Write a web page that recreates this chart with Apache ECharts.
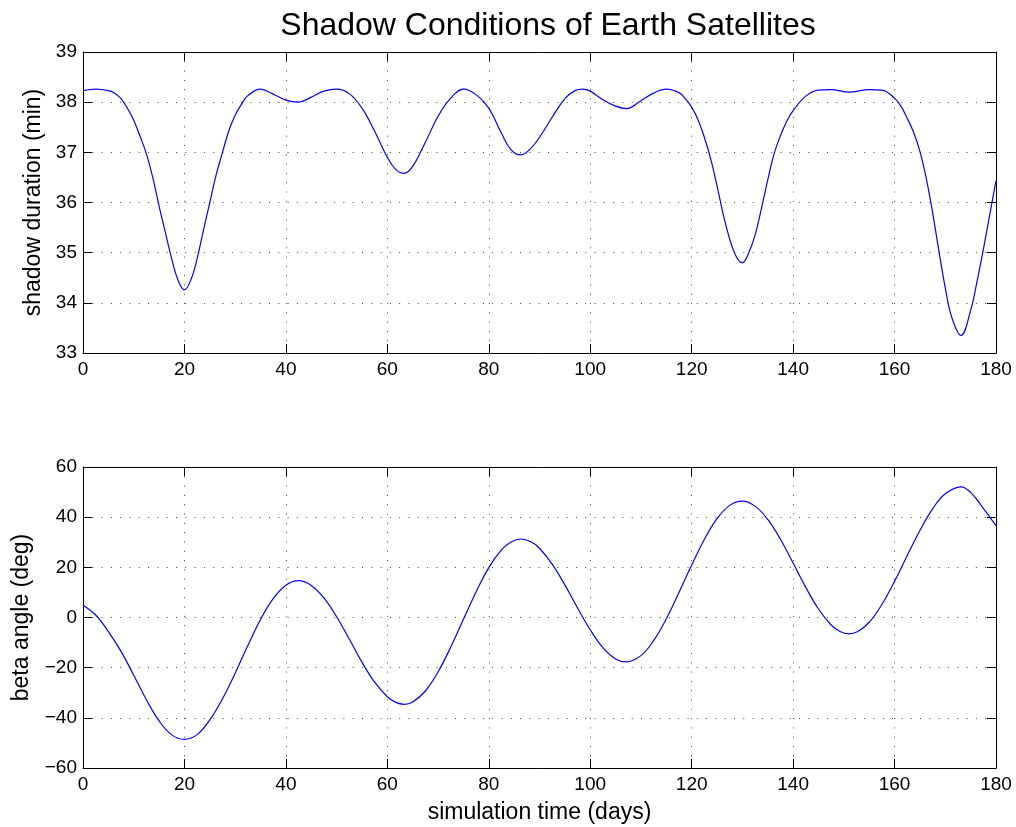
<!DOCTYPE html>
<html>
<head>
    <meta charset="utf-8">
    <script src="https://cdn.jsdelivr.net/npm/echarts@6/dist/echarts.min.js"></script>
</head>
<body style="margin:0; background:#fff">
<div id="main" style="width: 1016px; height: 827px"></div>
<script type="text/javascript">

    // shadow duration (top panel)
    var durTime = [0, 2.5, 5, 6.25, 7.5, 8.75, 10, 11.25, 12.5, 13.75, 15, 16.25, 17.5, 18.75, 20,
        21.25, 22.5, 23.75, 25, 26.25, 27.5, 28.75, 30, 31.25, 32.5, 35, 37.5, 40, 42.5, 45, 47.5, 50,
        52.5, 55, 57.5, 60, 61.65, 63.3, 65, 67.5, 70, 72.5, 75, 77.5, 80, 82.5, 84.4, 86.3, 88.2, 90, 92.5, 95, 97,
        98.5, 100, 102.5, 105, 107.1, 110, 112.5, 115, 117.5, 118.75, 120, 121.25, 122.5, 123.75, 125, 126.25,
        127.5, 128.75, 130, 131.25, 132.5, 133.75, 135, 136.25, 137.5, 138.75, 140, 142.5, 145, 147.5,
        151, 155, 157.5, 160, 161.25, 162.5, 163.75, 165, 166.25, 167.5, 168.75, 170, 171.25,
        173.1, 175, 176.25, 177.5, 178.75, 180];
    var durValue = [38.23, 38.26, 38.23, 38.18, 38.07, 37.88, 37.64, 37.32, 36.97, 36.5, 35.93, 35.4, 34.87, 34.45, 34.26,
        34.45, 34.88, 35.45, 36.0, 36.55, 37.0, 37.43, 37.74, 37.96, 38.13, 38.26, 38.16, 38.04, 38.0, 38.1, 38.22, 38.26,
        38.17, 37.88, 37.42, 36.9, 36.66, 36.58, 36.72, 37.2, 37.72, 38.08, 38.26, 38.15, 37.88, 37.38, 37.05, 36.95, 37.07, 37.3, 37.7, 38.07, 38.23,
        38.26, 38.22, 38.05, 37.92, 37.87, 38.03, 38.18, 38.26, 38.19, 38.07, 37.9, 37.65, 37.3, 36.87, 36.33, 35.75,
        35.27, 34.93, 34.8, 35.0, 35.35, 35.88, 36.45, 36.97, 37.33, 37.62, 37.83, 38.12, 38.24, 38.25,
        38.2, 38.25, 38.24, 38.08, 37.92, 37.68, 37.4, 37.02, 36.48, 35.8, 35.03, 34.3, 33.72,
        33.35, 33.85, 34.42, 35.06, 35.75, 36.43];

    // beta angle (bottom panel)
    var betaTime = [0, 2.5, 5, 7.5, 10, 12.5, 15, 17.5, 20, 22.5, 25, 27.5, 30, 32.5, 35, 37.5, 40, 42.5,
        45, 47.5, 50, 52.5, 55, 57.5, 60, 61.65, 63.3, 65, 67.5, 70, 72.5, 75, 77.5, 80, 82.5, 84.4, 86.3, 88.4, 90,
        92.5, 95, 97.5, 100, 102.5, 105, 107.1, 110, 112.5, 115, 117.5, 120, 122.5, 125, 127.5, 130,
        132.5, 135, 137.5, 140, 142.5, 145, 147.5, 149.25, 151, 152.75, 155, 157.5, 160, 162.5, 165, 167.5, 170,
        173.1, 175, 177.5, 180];
    var betaValue = [4.9, 1.0, -5.6, -13.5, -23.0, -32.8, -41.2, -46.8, -48.6, -46.7, -40.8, -32.4, -22.2, -11.2, -0.8, 7.5, 12.9, 14.7,
        12.8, 7.8, 0.3, -8.6, -17.8, -25.8, -31.6, -33.85, -34.6, -33.7, -29.3, -21.7, -11.8, -0.7, 10.2, 19.9, 27.0, 30.1, 31.3, 30.1, 27.6,
        21.3, 13.0, 3.8, -4.9, -12.0, -16.5, -17.7, -15.2, -9.2, -0.5, 10.0, 20.9, 31.1, 39.4, 44.7, 46.4,
        44.4, 39.1, 31.2, 21.7, 12.0, 3.4, -3.0, -5.6, -6.5, -5.6, -1.9, 5.2, 14.4, 24.7, 34.7, 43.3, 49.3,
        52.1, 49.9, 43.5, 36.6];

    var xTicks = [0, 180, 20];
    var durTicks = [33, 39, 1];
    var betaTicks = [-60, 60, 20];

    function pairs(xs, ys) {
        var out = [];
        for (var i = 0; i < xs.length; i++) out.push([xs[i], ys[i]]);
        return out;
    }

    var font = 'Liberation Sans, Arial, Helvetica, sans-serif';
    var gridLine = {show: true, lineStyle: {color: '#000', type: [1, 8.3], width: 1, opacity: 0.75}};
    var black = {color: '#000', width: 1};
    var minusFmt = function (v) { return String(v).replace('-', '\u2212'); };

    function xAx(grid, pos, labels, name) {
        return {
            type: 'value', gridIndex: grid, position: pos,
            min: xTicks[0], max: xTicks[1], interval: xTicks[2],
            axisLine: {show: true, onZero: false, lineStyle: black},
            axisTick: {show: true, inside: true, length: 9, lineStyle: black},
            axisLabel: {show: labels, color: '#000', fontSize: 19, fontFamily: font, margin: 7},
            splitLine: labels ? gridLine : {show: false},
            name: name || '', nameLocation: 'middle', nameGap: 33,
            nameTextStyle: {color: '#000', fontSize: 23, fontFamily: font}
        };
    }

    function yAx(grid, pos, ticks, labels, name, gap) {
        return {
            type: 'value', gridIndex: grid, position: pos,
            min: ticks[0], max: ticks[1], interval: ticks[2],
            axisLine: {show: true, onZero: false, lineStyle: black},
            axisTick: {show: true, inside: true, length: 9, lineStyle: black},
            axisLabel: {show: labels, color: '#000', fontSize: 19, fontFamily: font, margin: 6, formatter: minusFmt},
            splitLine: labels ? gridLine : {show: false},
            name: name || '', nameLocation: 'middle', nameGap: gap || 30,
            nameTextStyle: {color: '#000', fontSize: 23, fontFamily: font}
        };
    }

    var myChart = echarts.init(document.getElementById('main'), null, {renderer: 'canvas'});
    var option = {
        backgroundColor: '#fff',
        animation: false,
        title: {
            text: 'Shadow Conditions of Earth Satellites', left: 543, top: 5, textAlign: 'center',
            textStyle: {color: '#000', fontSize: 32, fontWeight: 'normal', fontFamily: font}
        },
        grid: [
            {left: 83, top: 52, width: 913, height: 301},
            {left: 83, top: 467, width: 913, height: 301}
        ],
        xAxis: [
            xAx(0, 'bottom', true),
            xAx(0, 'top', false),
            xAx(1, 'bottom', true, 'simulation time (days)'),
            xAx(1, 'top', false)
        ],
        yAxis: [
            yAx(0, 'left', durTicks, true, 'shadow duration (min)', 38),
            yAx(0, 'right', durTicks, false),
            yAx(1, 'left', betaTicks, true, 'beta angle (deg)', 50),
            yAx(1, 'right', betaTicks, false)
        ],
        series: [
            {
                type: 'line', xAxisIndex: 0, yAxisIndex: 0, data: pairs(durTime, durValue),
                smooth: 0.4, showSymbol: false, lineStyle: {color: '#0000ff', width: 1.2}
            },
            {
                type: 'line', xAxisIndex: 2, yAxisIndex: 2, data: pairs(betaTime, betaValue),
                smooth: 0.4, showSymbol: false, lineStyle: {color: '#0000ff', width: 1.2}
            }
        ]
    };
    myChart.setOption(option);
</script>
</body>
</html>
